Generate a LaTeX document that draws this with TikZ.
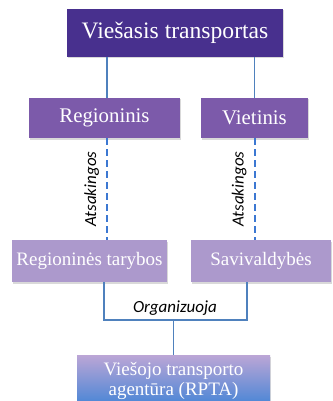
\documentclass[tikz,border=0pt]{standalone}
\usepackage{fontspec}
\setmainfont{Liberation Serif}
\newfontfamily\labelfont{Carlito}
\usepackage{tikz}
\usetikzlibrary{
  positioning,
  calc,
  shadows
}
\definecolor{vtDark}{RGB}{72,48,142}
\definecolor{vtMid}{RGB}{124,90,170}
\definecolor{vtLight}{RGB}{172,153,204}
\definecolor{vtTop}{RGB}{188,166,214}
\definecolor{vtBlue}{RGB}{68,132,214}
\definecolor{vtLine}{RGB}{79,129,189}
\definecolor{vtDash}{RGB}{60,120,210}

\begin{document}
\begin{tikzpicture}[
  x=1pt, y=-1pt,
  %% Filled box (1-arg: fill colour)
  box/.style={
    fill=#1,
    draw=none,
    text=white,
    align=center,
    inner sep=0pt,
    drop shadow={opacity=0.3, shadow xshift=1pt, shadow yshift=-1.5pt}
  },
  link/.style={draw=vtLine, line width=1.1pt},
  dlink/.style={draw=vtDash, line width=2pt, dash pattern=on 7pt off 4pt},
  lbl/.style={font=\labelfont\itshape\fontsize{17}{19}\selectfont, text=black}
]
\useasboundingbox (0,0) rectangle (332,401);

%% ---- Nodes ----
\node[box=vtDark, minimum width=216pt, minimum height=48pt,
  font=\fontsize{23.6}{26}\selectfont] (top) at (175,33) {Viešasis transportas};

\node[box=vtMid, minimum width=151pt, minimum height=40pt,
  font=\fontsize{20.8}{23}\selectfont] (reg) at (104.5,118) {Regioninis};
\node[box=vtMid, minimum width=107pt, minimum height=40pt,
  font=\fontsize{20.8}{23}\selectfont] (viet) at (254.5,118) {Vietinis};

\node[box=vtLight, minimum width=155pt, minimum height=42pt,
  font=\fontsize{19}{21}\selectfont] (regt) at (89.5,261) {Regioninės tarybos};
\node[box=vtLight, minimum width=140pt, minimum height=42pt,
  font=\fontsize{19}{21}\selectfont] (sav) at (261,261) {Savivaldybės};

\node[box=vtLight, top color=vtTop, bottom color=vtBlue,
  minimum width=193pt, minimum height=52pt,
  font=\fontsize{19}{19.5}\selectfont] (rpta) at (173.5,381) {Viešojo transporto\\agentūra (RPTA)};

%% ---- Top connectors ----
\draw[link] ([xshift=2.5pt]reg.north) -- ([xshift=2.5pt]reg.north |- top.south);
\draw[link] (viet.north) -- (viet.north |- top.south);

%% ---- Dashed connectors ----
\draw[dlink] ([xshift=2.5pt]reg.south) -- ([xshift=2.5pt]reg.south |- regt.north)
  node[midway, lbl, rotate=90, anchor=south, inner sep=7pt]{Atsakingos};
\draw[dlink] (viet.south) -- (viet.south |- sav.north)
  node[midway, lbl, rotate=90, anchor=south, inner sep=7pt]{Atsakingos};

%% ---- Bottom join ----
\coordinate (org) at (175,320);
\draw[link] ([xshift=14.5pt]regt.south) |- (org) -| ([xshift=-14pt]sav.south);
\draw[link] (rpta.north) -- (rpta.north |- org);
\node[lbl, above=1pt of org] (orglbl) {Organizuoja};

\end{tikzpicture}
\end{document}
